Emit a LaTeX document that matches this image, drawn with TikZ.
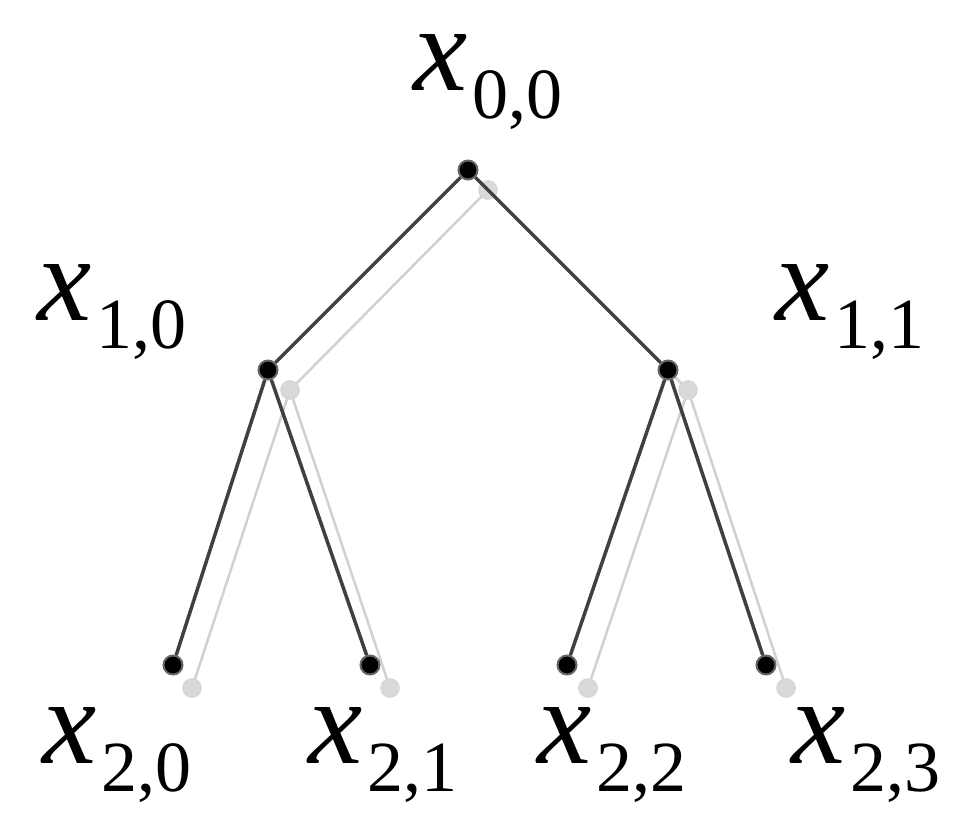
\documentclass[tikz,border=0pt]{standalone}
\usepackage{fontspec}
\setmainfont{Liberation Serif}
\newcommand{\xlab}[1]{{\fontsize{122}{122}\selectfont\itshape x}\kern4pt\raisebox{-28pt}{\fontsize{72}{72}\selectfont #1}}
\begin{document}
\begin{tikzpicture}[x=1pt,y=-1pt,
  blk/.style={draw=black!75,line width=3.5pt},
  shd/.style={draw=black!18,line width=2.5pt},
  bdot/.style={circle,fill=black,draw=black!60,line width=2pt,inner sep=0,minimum size=19pt},
  gdot/.style={circle,fill=black!15,draw=black!20,inner sep=0,minimum size=19pt},
  lab/.style={inner sep=0}]
\useasboundingbox (0,0) rectangle (977,832);
\node[gdot] (s0) at (488,190) {};
\node[gdot] (s1) at (290,390) {};
\node[gdot] (s2) at (688,390) {};
\node[gdot] (s3) at (192,688) {};
\node[gdot] (s4) at (390,688) {};
\node[gdot] (s5) at (588,688) {};
\node[gdot] (s6) at (786,688) {};
\draw[shd] (s0)--(s1) (s0)--(s2) (s1)--(s3) (s1)--(s4) (s2)--(s5) (s2)--(s6);
\node[bdot] (a0) at (468,170) {};
\node[bdot] (a1) at (268,370) {};
\node[bdot] (a2) at (668,370) {};
\node[bdot] (a3) at (173,665) {};
\node[bdot] (a4) at (370,665) {};
\node[bdot] (a5) at (567,665) {};
\node[bdot] (a6) at (766,665) {};
\draw[blk] (a0)--(a1) (a0)--(a2) (a1)--(a3) (a1)--(a4) (a2)--(a5) (a2)--(a6);
\node[lab] (l0) at (488,82) {\xlab{0,0}};
\node[lab] (l1) at (112,312) {\xlab{1,0}};
\node[lab] (l2) at (850,312) {\xlab{1,1}};
\node[lab] (l3) at (117,755) {\xlab{2,0}};
\node[lab] (l4) at (383,755) {\xlab{2,1}};
\node[lab] (l5) at (612,755) {\xlab{2,2}};
\node[lab] (l6) at (866,755) {\xlab{2,3}};
\end{tikzpicture}
\end{document}
